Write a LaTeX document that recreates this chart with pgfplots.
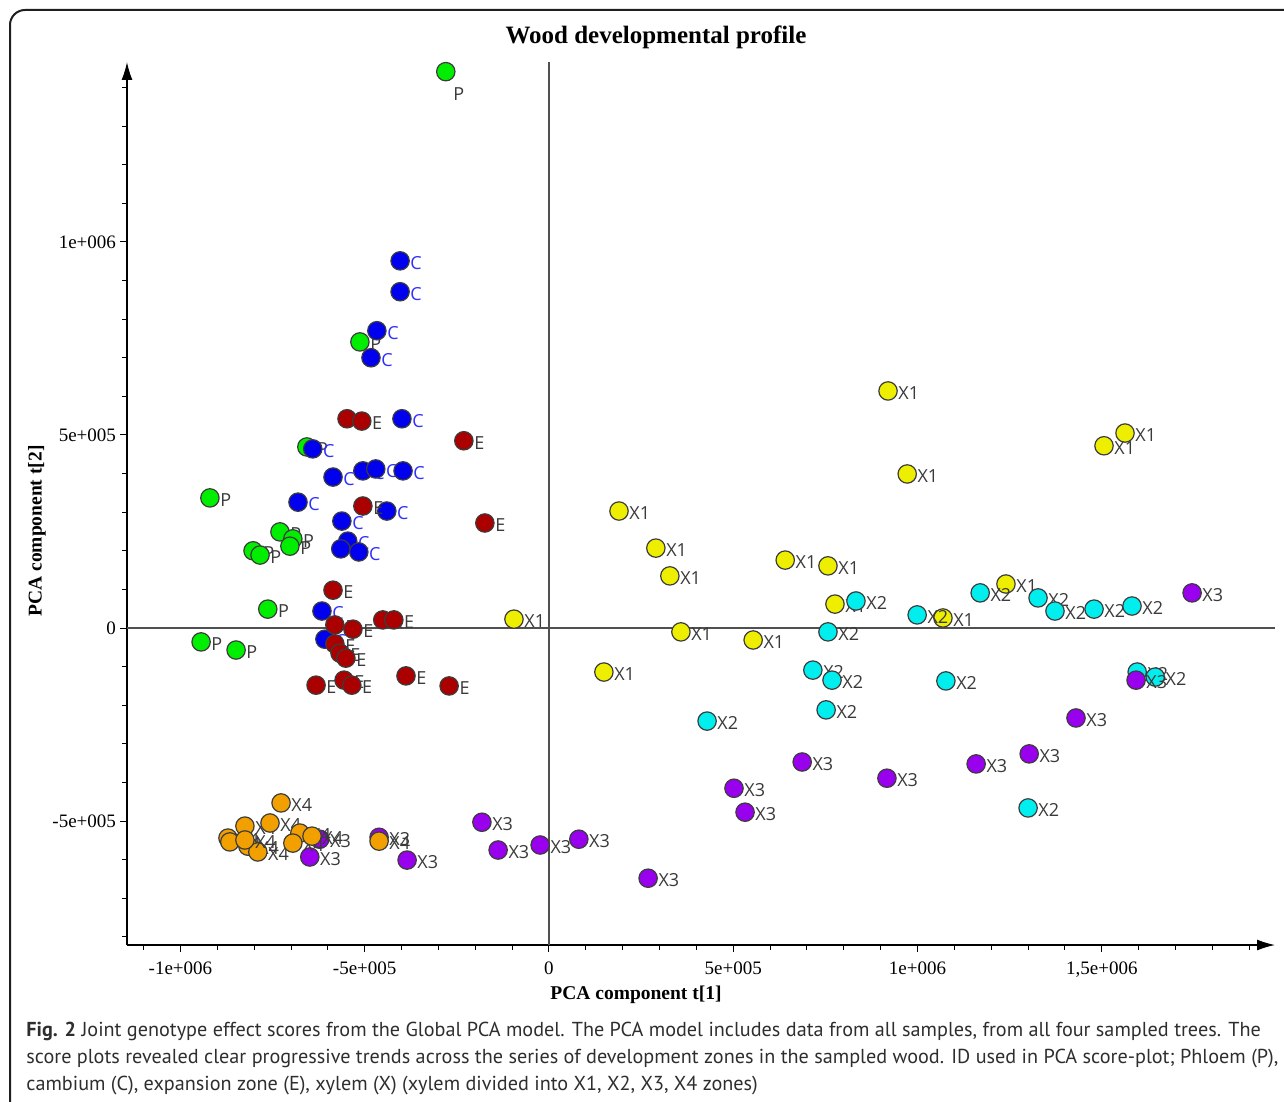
\documentclass[border=0pt]{standalone}
\usepackage{pgfplots}
\pgfplotsset{compat=1.18}
\usepackage{pgfplotstable}
\usepackage{fontspec}
\setmainfont{Liberation Serif}
\newfontfamily\capfont{PT Sans}
\newfontfamily\lblfont{Open Sans}
\usetikzlibrary{arrows.meta}

\definecolor{cP}{HTML}{00EE00}
\definecolor{cC}{HTML}{0000EE}
\definecolor{cCt}{HTML}{2F2FFF}
\definecolor{cE}{HTML}{AA0000}
\definecolor{cXa}{HTML}{EEEE00}
\definecolor{cXb}{HTML}{00EEEE}
\definecolor{cXc}{HTML}{9900EE}
\definecolor{cXd}{HTML}{F2A000}
\definecolor{edge}{HTML}{3C3C3C}
\definecolor{lbl}{HTML}{3A3A3A}
\definecolor{zero}{HTML}{505050}

\pgfplotstableread{
x y
-513000 741000
-657000 469000
-920000 337000
-730000 249000
-695000 231000
-703000 212000
-803000 200000
-784000 189000
-763000 49000
-944000 -36000
-849000 -57000
}\tP

\pgfplotstableread{
x y
-404000 951000
-404000 871000
-467000 770000
-483000 700000
-399000 542000
-641000 464000
-586000 391000
-505000 407000
-470000 412000
-396000 407000
-681000 326000
-440000 303000
-562000 277000
-546000 225000
-565000 205000
-516000 197000
-616000 44000
-608000 -29000
}\tC

\pgfplotstableread{
x y
-548000 542000
-508000 536000
-231000 485000
-505000 316000
-174000 272000
-586000 98000
-581000 8000
-532000 -3000
-451000 21000
-421000 21000
-581000 -41000
-567000 -65000
-551000 -78000
-632000 -148000
-556000 -135000
-535000 -148000
-388000 -124000
-271000 -150000
}\tE

\pgfplotstableread{
x y
920000 614000
1563000 505000
1506000 472000
972000 399000
190000 303000
290000 207000
328000 135000
641000 176000
757000 161000
776000 62000
1240000 114000
1069000 26000
-95000 23000
358000 -10000
554000 -31000
149000 -114000
}\tXa

\pgfplotstableread{
x y
833000 70000
757000 -10000
999000 34000
1170000 91000
1327000 78000
1373000 44000
1479000 49000
1582000 57000
716000 -109000
768000 -135000
1077000 -137000
1596000 -114000
1645000 -127000
752000 -212000
429000 -241000
1300000 -466000
}\tXb

\pgfplotstableread{
x y
1745000 91000
1593000 -135000
1430000 -233000
1303000 -326000
1159000 -352000
917000 -389000
687000 -347000
502000 -415000
532000 -477000
-182000 -503000
-138000 -575000
-24000 -562000
81000 -547000
269000 -648000
-622000 -547000
-649000 -593000
-461000 -542000
-385000 -601000
}\tXc

\pgfplotstableread{
x y
-727000 -453000
-825000 -513000
-757000 -505000
-676000 -531000
-871000 -544000
-866000 -554000
-817000 -565000
-790000 -580000
-695000 -557000
-461000 -552000
-825000 -549000
-643000 -539000
}\tXd

\begin{document}
\begin{tikzpicture}
\useasboundingbox (0,0) rectangle (642pt,-551pt);
\clip (0,0) rectangle (642pt,-551pt);
\draw[line width=1pt, color=black!88, rounded corners=7.5pt] (5pt,-5pt) rectangle (665pt,-575pt);

\begin{axis}[
  at={(63.5pt,-472.5pt)}, anchor=south west,
  scale only axis, width=574pt, height=441.5pt,
  xmin=-1145000, xmax=1970000, ymin=-821000, ymax=1466000,
  axis lines=left,
  axis line style={line width=0.65pt, black, -{Latex[length=9pt,width=5.5pt]}},
  tick align=outside, major tick length=3.5pt, minor tick length=2.3pt,
  tick style={black, line width=0.5pt},
  xtick={-1000000,-500000,0,500000,1000000,1500000},
  xticklabels={-1e+006,-5e+005,0,5e+005,1e+006,{1,5e+006}},
  minor xtick={-1100000,-1000000,-900000,-800000,-700000,-600000,-500000,-400000,-300000,-200000,-100000,0,100000,200000,300000,400000,500000,600000,700000,800000,900000,1000000,1100000,1200000,1300000,1400000,1500000,1600000,1700000,1800000,1900000},
  ytick={-500000,0,500000,1000000},
  yticklabels={-5e+005,0,5e+005,1e+006},
  minor ytick={-800000,-700000,-600000,-500000,-400000,-300000,-200000,-100000,0,100000,200000,300000,400000,500000,600000,700000,800000,900000,1000000,1100000,1200000,1300000,1400000},
  scaled ticks=false,
  ticklabel style={font=\fontsize{9.5}{11}\selectfont},
  xticklabel style={yshift=-1.5pt},
  yticklabel style={xshift=1.5pt},
  clip=false,
  pt/.style={only marks, mark=*, mark size=4.6pt,
     mark options={fill=#1, draw=edge, line width=0.6pt}},
  nodes near coords style={font=\lblfont\fontsize{9}{10}\selectfont, text=lbl,
     anchor=base west, inner sep=0pt, xshift=4.9pt, yshift=-4.2pt},
]
\draw[zero, line width=0.9pt] (axis cs:-1145000,0) -- (axis cs:1970000,0);
\draw[zero, line width=0.75pt] (axis cs:0,-821000) -- (axis cs:0,1466000);

\addplot[pt=cP, nodes near coords={P},
  nodes near coords style={anchor=north west, xshift=-1.4pt, yshift=-3.3pt}]
  coordinates {(-280000,1441000)};
\addplot[pt=cP, nodes near coords={P}] table[x=x,y=y] {\tP};
\addplot[pt=cC, nodes near coords={C}, nodes near coords style={text=cCt}] table[x=x,y=y] {\tC};
\addplot[pt=cE, nodes near coords={E}] table[x=x,y=y] {\tE};
\addplot[pt=cXa, nodes near coords={X1}] table[x=x,y=y] {\tXa};
\addplot[pt=cXb, nodes near coords={X2}] table[x=x,y=y] {\tXb};
\addplot[pt=cXc, nodes near coords={X3}] table[x=x,y=y] {\tXc};
\addplot[pt=cXd, nodes near coords={X4}] table[x=x,y=y] {\tXd};
\end{axis}

\node[font=\bfseries\fontsize{12.5}{14}\selectfont] at (328pt,-18.5pt) {Wood developmental profile};
\node[font=\bfseries\fontsize{9.75}{11}\selectfont] at (318pt,-497.5pt) {PCA component t[1]};
\node[rotate=90, font=\bfseries\fontsize{9.75}{11}\selectfont] at (18.5pt,-265.5pt) {PCA component t[2]};

\begin{scope}[every node/.style={anchor=base west, inner sep=0pt, text=black!82,
   font=\capfont\fontsize{10.1}{11}\selectfont}]
\node at (13pt,-518pt) {\textbf{Fig. 2} Joint genotype effect scores from the Global PCA model. The PCA model includes data from all samples, from all four sampled trees. The};
\node at (13pt,-531.5pt) {score plots revealed clear progressive trends across the series of development zones in the sampled wood. ID used in PCA score-plot; Phloem (P),};
\node at (13pt,-545pt) {cambium (C), expansion zone (E), xylem (X) (xylem divided into X1, X2, X3, X4 zones)};
\end{scope}
\end{tikzpicture}
\end{document}
